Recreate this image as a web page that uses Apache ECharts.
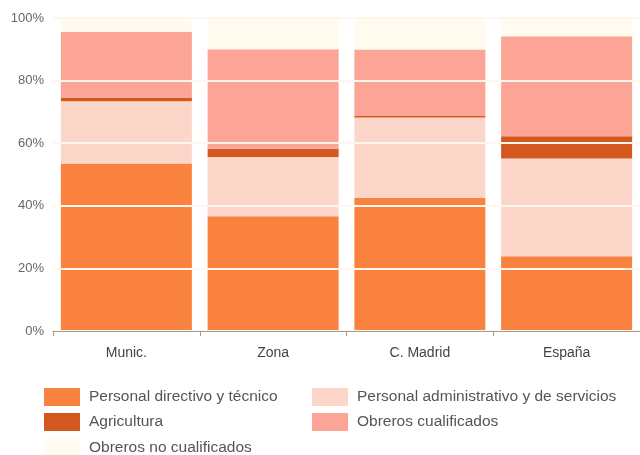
<!DOCTYPE html>
<html>
<head>
<meta charset="utf-8">
<script src="https://cdn.jsdelivr.net/npm/echarts@6/dist/echarts.min.js"></script>
<style>
  html, body { margin: 0; padding: 0; background: #ffffff; }
  #main { width: 640px; height: 455px; }
</style>
</head>
<body>
<div id="main"></div>
<script>
// datos (porcentajes)
var categorias = ['Munic.', 'Zona', 'C. Madrid', 'España'];
var directivo = [53.5, 36.7, 42.5, 23.9];
var administrativo = [19.9, 18.9, 25.7, 31.2];
var agricultura = [1.2, 2.6, 0.5, 7.1];
var cualificados = [21.0, 31.8, 21.2, 32.0];
var noCualificados = [4.4, 10.0, 10.1, 5.8];
var ticksY = [0, 20, 40, 60, 80, 100];

var nombres = [
	'Personal directivo y técnico',
	'Personal administrativo y de servicios',
	'Agricultura',
	'Obreros cualificados',
	'Obreros no cualificados'
];
var colores = ['#fa823f', '#fdd6ca', '#d4571f', '#fca596', '#fffcef'];
var valores = [directivo, administrativo, agricultura, cualificados, noCualificados];

var fuente = "'Liberation Sans', Arial, sans-serif";

var myChart = echarts.init(document.getElementById('main'));

var series = [];
for (var i = 0; i < nombres.length; i++) {
	series.push({
		name: nombres[i],
		type: 'bar',
		stack: 'total',
		barWidth: 131,
		itemStyle: { color: colores[i] },
		data: valores[i]
	});
}

// una leyenda por elemento, en dos columnas
var posLeyenda = [[44, 388], [312, 388], [44, 413], [312, 413], [44, 439]];
var leyendas = [];
for (var j = 0; j < nombres.length; j++) {
	leyendas.push({
		left: posLeyenda[j][0],
		top: posLeyenda[j][1],
		padding: 0,
		icon: 'rect',
		itemWidth: 36,
		itemHeight: 18,
		selectedMode: false,
		data: [nombres[j]],
		textStyle: { color: '#555', fontSize: 15.5, fontFamily: fuente, padding: [0, 0, 0, 4] }
	});
}

var option = {
	backgroundColor: '#ffffff',
	animation: false,
	grid: { left: 53, right: -1, top: 18, bottom: 124 },
	legend: leyendas,
	xAxis: {
		type: 'category',
		data: categorias,
		z: 4,
		axisLine: { lineStyle: { color: '#a39a94', width: 1 } },
		axisTick: { show: true, length: 5, lineStyle: { color: '#a39a94' } },
		axisLabel: { color: '#444', fontSize: 14, fontFamily: fuente, margin: 15 }
	},
	yAxis: {
		type: 'value',
		min: ticksY[0],
		max: ticksY[ticksY.length - 1],
		interval: 20,
		z: 3,
		axisLine: { show: false },
		axisTick: { show: false },
		splitLine: { show: true, lineStyle: { color: '#fff6ee', width: 2 } },
		axisLabel: {
			color: '#666',
			fontSize: 13,
			fontFamily: fuente,
			margin: 9,
			formatter: function (v) { return v + '%'; }
		}
	},
	series: series
};
myChart.setOption(option);
</script>
</body>
</html>
